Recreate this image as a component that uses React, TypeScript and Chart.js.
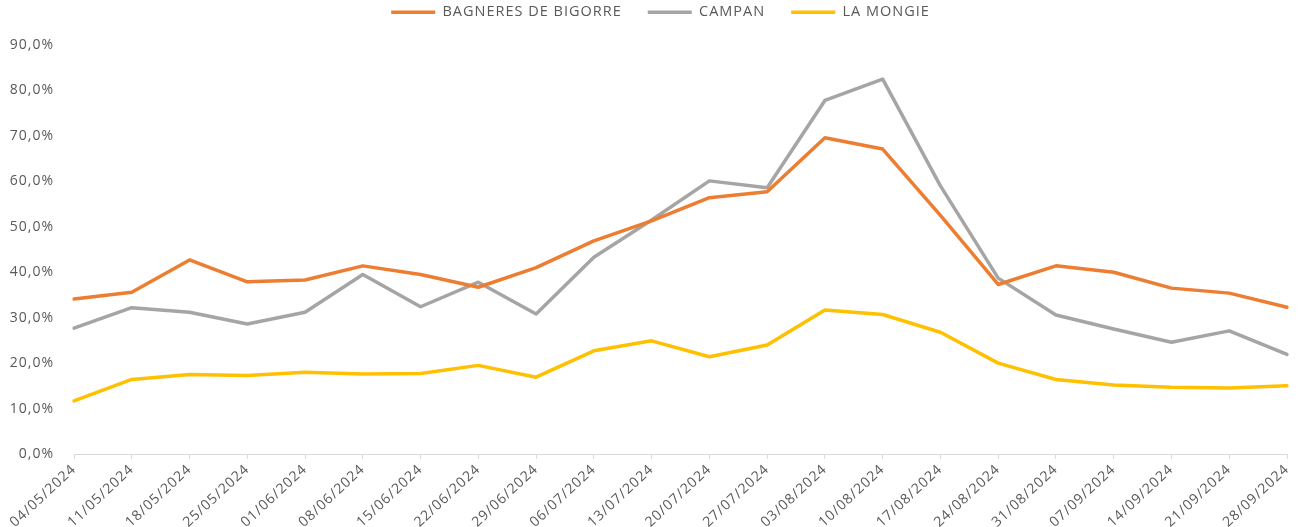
import React, { useEffect, useRef } from "react";
import { Chart, registerables } from "chart.js";

Chart.register(...registerables);

const categories = [
  "04/05/2024", "11/05/2024", "18/05/2024", "25/05/2024", "01/06/2024", "08/06/2024",
  "15/06/2024", "22/06/2024", "29/06/2024", "06/07/2024", "13/07/2024", "20/07/2024",
  "27/07/2024", "03/08/2024", "10/08/2024", "17/08/2024", "24/08/2024", "31/08/2024",
  "07/09/2024", "14/09/2024", "21/09/2024", "28/09/2024",
];

const bagneres = [34.1, 35.6, 42.7, 37.9, 38.3, 41.4, 39.5, 36.7, 41.0, 46.9, 51.3, 56.4, 57.7, 69.6, 67.1, 52.5, 37.3, 41.4, 40.0, 36.5, 35.4, 32.3];
const campan = [27.7, 32.2, 31.2, 28.6, 31.2, 39.5, 32.4, 37.8, 30.8, 43.3, 51.5, 60.1, 58.6, 77.8, 82.5, 59.0, 38.7, 30.6, 27.5, 24.6, 27.1, 21.9];
const laMongie = [11.7, 16.4, 17.5, 17.3, 18.0, 17.6, 17.7, 19.5, 16.9, 22.7, 24.9, 21.4, 24.0, 31.7, 30.7, 26.8, 20.0, 16.4, 15.2, 14.7, 14.5, 15.0];

const seriesNames = ["BAGNERES DE BIGORRE", "CAMPAN", "LA MONGIE"];
const seriesColors = ["#ED7D31", "#A5A5A5", "#FFC000"];

const yMin = 0;
const yMax = 90;
const yStep = 10;

const FONT = "'Open Sans', 'Liberation Sans', sans-serif";
const TEXT_COLOR = "#595959";

export default function App() {
  const canvasRef = useRef<HTMLCanvasElement | null>(null);

  useEffect(() => {
    const canvas = canvasRef.current;
    if (!canvas) return;
    const values = [bagneres, campan, laMongie];
    const legendPad = 26;

    const legendLayout = {
      id: "legendLayout",
      beforeInit(chart: any) {
        const legend = chart.legend;
        if (!legend) return;
        const orig = legend.fit;
        legend.fit = function () {
          orig.call(legend);
          legend.height = 45 + legendPad - 5;
        };
      },
      afterLayout(chart: any) {
        const legend = chart.legend;
        if (!legend) return;
        legend.left += 17;
        legend.right += 17;
      },
    };

    const spacing = {
      id: "letterSpacing",
      beforeUpdate(chart: any) {
        (chart.ctx as any).letterSpacing = "1px";
      },
      beforeDraw(chart: any) {
        (chart.ctx as any).letterSpacing = "1px";
      },
    };

    const chart = new Chart(canvas, {
      type: "line",
      data: {
        labels: categories,
        datasets: seriesNames.map((name, i) => ({
          label: name,
          data: values[i],
          borderColor: seriesColors[i],
          backgroundColor: seriesColors[i],
          borderWidth: 3.5,
          pointRadius: 0,
          pointHoverRadius: 0,
          tension: 0,
          fill: false,
          borderCapStyle: "round" as const,
          borderJoinStyle: "round" as const,
        })),
      },
      options: {
        animation: false,
        responsive: false,
        maintainAspectRatio: false,
        devicePixelRatio: 1,
        layout: { padding: { top: -(legendPad - 5), left: 0, right: 19, bottom: 0 } },
        plugins: {
          legend: {
            display: true,
            position: "top",
            labels: {
              usePointStyle: true,
              pointStyle: "line",
              pointStyleWidth: 44,
              padding: legendPad,
              color: TEXT_COLOR,
              font: { family: FONT, size: 14.5 },
            },
          },
          tooltip: { enabled: false },
        },
        scales: {
          x: {
            type: "category",
            offset: false,
            afterFit(scale: any) {
              scale.height = 73;
            },
            grid: {
              display: true,
              drawOnChartArea: false,
              drawTicks: true,
              tickLength: 5,
              color: "#D9D9D9",
            },
            border: { display: true, color: "#D9D9D9", width: 1 },
            ticks: {
              autoSkip: false,
              minRotation: 43,
              maxRotation: 43,
              padding: 2,
              color: TEXT_COLOR,
              font: { family: FONT, size: 14 },
            },
          },
          y: {
            min: yMin,
            max: yMax,
            afterFit(scale: any) {
              scale.width = 74;
            },
            grid: { display: false, drawTicks: false },
            border: { display: false },
            ticks: {
              stepSize: yStep,
              padding: 20,
              color: TEXT_COLOR,
              font: { family: FONT, size: 14 },
              callback: (v: any) => Number(v).toFixed(1).replace(".", ",") + "%",
            },
          },
        },
      },
      plugins: [legendLayout, spacing],
    });

    return () => chart.destroy();
  }, []);

  return (
    <div style={{ position: "fixed", left: 0, top: 0, width: 1306, height: 527, background: "#fff" }}>
      <canvas ref={canvasRef} width={1306} height={527} style={{ width: 1306, height: 527, display: "block" }} />
    </div>
  );
}
